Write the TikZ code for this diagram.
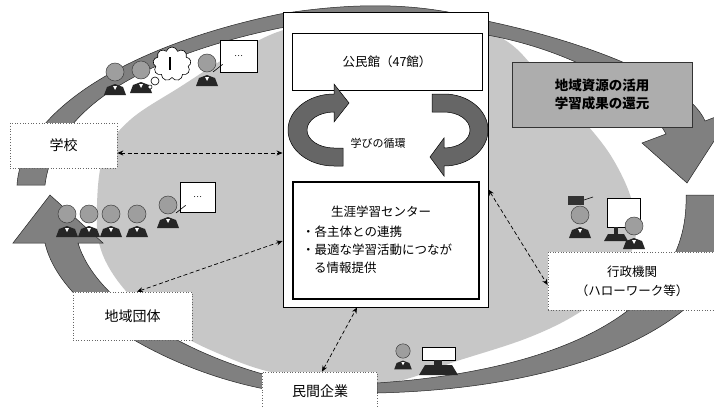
\documentclass[tikz,border=0pt]{standalone}
\usepackage{fontspec}
\newfontfamily\jp{Noto Sans CJK JP}
\usetikzlibrary{arrows.meta,shapes.symbols}

\begin{document}
\begin{tikzpicture}[x=1pt,y=-1pt,
  font=\jp,
  lightfield/.style={fill=black!22},
  bandfill/.style={fill=black!50, draw=black!85, line width=0.5pt},
  loopfill/.style={fill=black!60, draw=black, line width=0.5pt},
  labelbox/.style={draw=black!60, dotted, line width=0.7pt, fill=white, inner sep=0pt},
  plainbox/.style={draw=black, line width=0.7pt, fill=white, inner sep=0pt},
  link/.style={dash pattern=on 4pt off 2.5pt, line width=0.7pt,
    {Stealth[length=6pt,width=5pt]}-{Stealth[length=6pt,width=5pt]}},
  big/.style={font=\jp\fontsize{14}{17}\selectfont},
  mid/.style={font=\jp\fontsize{12.5}{19}\selectfont},
  small/.style={font=\jp\fontsize{11}{13}\selectfont},
  person/.pic={
    \fill[black!85] (-11,23) -- (-8,15) -- (0,12) -- (8,15) -- (11,23) -- cycle;
    \fill[white] (-2,14) -- (0,18) -- (2,14) -- cycle;
    \draw[black!75, fill=black!38, line width=0.5pt] (0,0) circle[radius=9];
  }
]
\useasboundingbox (0,0) rectangle (714,407);
\clip (0,0) rectangle (714,407);
\fill[white] (0,0) rectangle (714,407);

% light field of the learning community
\fill[lightfield] plot[smooth cycle, tension=0.6] coordinates {
  (97,205) (101,250) (125,290) (165,325) (215,352) (280,374) (380,384)
  (460,360) (530,337) (580,312) (615,282) (635,240) (633,205) (618,168)
  (594,133) (545,80) (495,35) (400,20) (300,26) (240,50) (180,87)
  (130,120) (104,155)};

% outer circulation: upper band with arrowhead on the right
\filldraw[bandfill] (17,185) .. controls (22,110) and (130,45) .. (280,14)
  .. controls (380,-2) and (440,8) .. (487,21)
  .. controls (600,45) and (690,85) .. (705,121)
  -- (734,110) -- (687,183) -- (642,143) -- (666,134)
  .. controls (640,85) and (560,48) .. (487,35)
  .. controls (440,24) and (380,16) .. (280,28)
  .. controls (150,55) and (55,105) .. (45,185) -- cycle;

% right band running down to the bottom
\filldraw[bandfill] (686,195) -- (740,195) .. controls (748,310) and (600,388) .. (377,393)
  -- (377,383) .. controls (540,372) and (690,320) .. (686,195) -- cycle;

% lower-left band with arrowhead pointing up
\filldraw[bandfill] (270,390) .. controls (170,372) and (60,310) .. (45,243)
  -- (13,243) -- (50,195) -- (103,243) -- (78,243)
  .. controls (95,300) and (180,352) .. (270,376) -- cycle;

% people in the upper left
\pic at (115,72) {person};
\pic at (141,70) {person};
\node[cloud, cloud puffs=9, draw, fill=white, line width=0.6pt, minimum width=38pt,
  minimum height=34pt, inner sep=0pt] (idea) at (172,64) {};
\draw[line width=1.4pt] (170,57) -- (170,70);
\draw[fill=white, line width=0.6pt] (155,81) circle[radius=4];
\draw[fill=white, line width=0.5pt] (150,87) circle[radius=2];
\pic at (207,63) {person};
\node[plainbox, minimum width=37pt, minimum height=32pt,
  font=\jp\fontsize{8}{8}\selectfont] (talkA) at (238.5,56) {…};
\coordinate (talkAend) at (213,72);
\draw[line width=0.6pt] ([xshift=3pt,yshift=8pt]talkA.south west) -- (talkAend);

% people on the left
\pic at (67,214) {person};
\pic at (89,214) {person};
\pic at (111,214) {person};
\pic at (137,214) {person};
\pic at (168,205) {person};
\node[plainbox, minimum width=35pt, minimum height=30pt,
  font=\jp\fontsize{8}{8}\selectfont] (talkB) at (197.5,197) {…};
\coordinate (talkBend) at (176,213);
\draw[line width=0.6pt] ([xshift=6pt,yshift=7pt]talkB.south west) -- (talkBend);

% people at the computer, bottom
\pic[scale=0.8] at (403,351) {person};
\node[plainbox, minimum width=33pt, minimum height=13pt] (screenA) at (438.5,353.5) {};
\fill[black!85] (434,360) rectangle (442,365);
\fill[black!85] (419,375) -- (458,375) -- (452,365) -- (425,365) -- cycle;

% people at the computer, right
\fill[black!80] (568,196) rectangle (584,205);
\draw[line width=0.6pt] (584,200) -- (593,197);
\pic at (580,215) {person};
\node[plainbox, minimum width=33pt, minimum height=29pt] (screenB) at (623.5,212.5) {};
\fill[black!85] (614,227) rectangle (618,234);
\fill[black!85] (604,241) -- (628,241) -- (624,234) -- (608,234) -- cycle;
\pic at (634,226) {person};

% central facility
\node[plainbox, line width=0.9pt, minimum width=205pt, minimum height=295pt] (hub) at (385.5,159.5) {};
\node[plainbox, minimum width=190pt, minimum height=57pt, mid] (kominkan) at (387,61.5) {公民館（47館）};

% cycle of learning
\filldraw[loopfill] (343,166) -- (334,166)
  arc[start angle=90, end angle=270, x radius=46, y radius=36]
  -- (334,84) -- (349,103) -- (334,122) -- (334,112)
  arc[start angle=270, end angle=90, x radius=27, y radius=18]
  -- (343,148) -- cycle;
\filldraw[loopfill] (432,94) -- (444,94)
  arc[start angle=270, end angle=450, x radius=44, y radius=36]
  -- (444,176) -- (430,157) -- (444,138) -- (444,148)
  arc[start angle=90, end angle=-90, x radius=26, y radius=18]
  -- (432,112) -- cycle;
\node[small, inner sep=0pt] (cycle) at (378,143) {学びの循環};

\node[plainbox, line width=1.5pt, minimum width=186pt, minimum height=117pt] (centre) at (386,240.5) {};
\node[mid, inner sep=0pt] (centreTitle) at (381,212) {生涯学習センター};
\node[mid, inner sep=0pt, anchor=west] (lineA) at (302,232) {・各主体との連携};
\node[mid, inner sep=0pt, anchor=west] (lineB) at (302,250) {・最適な学習活動につなが};
\node[mid, inner sep=0pt, anchor=west] (lineC) at (314,268) {る情報提供};

% partners
\node[labelbox, minimum width=107pt, minimum height=45pt, big] (school) at (63.5,145.5) {学校};
\node[labelbox, minimum width=119pt, minimum height=48pt, big] (region) at (132.5,316) {地域団体};
\node[labelbox, minimum width=115pt, minimum height=44pt, big] (firm) at (319.5,394) {};
\node[big, inner sep=0pt] (firmText) at (320,391) {民間企業};
\node[labelbox, minimum width=168pt, minimum height=58pt, mid, align=center] (gov) at (632,281) {行政機関\\（ハローワーク等）};

\node[fill=black!32, draw=black!80, line width=0.6pt, minimum width=180pt, minimum height=65pt,
  align=center, font=\jp\bfseries\fontsize{13.5}{18}\selectfont] (resource) at (602,94.5)
  {地域資源の活用\\学習成果の還元};

% links between the partners and the centre
\draw[link] ([yshift=-7.5pt]school.east) -- ([yshift=-7.5pt]school.east -| hub.west);
\draw[link] ([xshift=4.5pt]region.north) -- ([yshift=-81.5pt]hub.west);
\draw[link] ([xshift=2.5pt]firm.north) -- ([xshift=-28.5pt]hub.south);
\draw[link] ([yshift=-30pt]hub.east) -- ([yshift=-4pt]gov.west);
\end{tikzpicture}
\end{document}
